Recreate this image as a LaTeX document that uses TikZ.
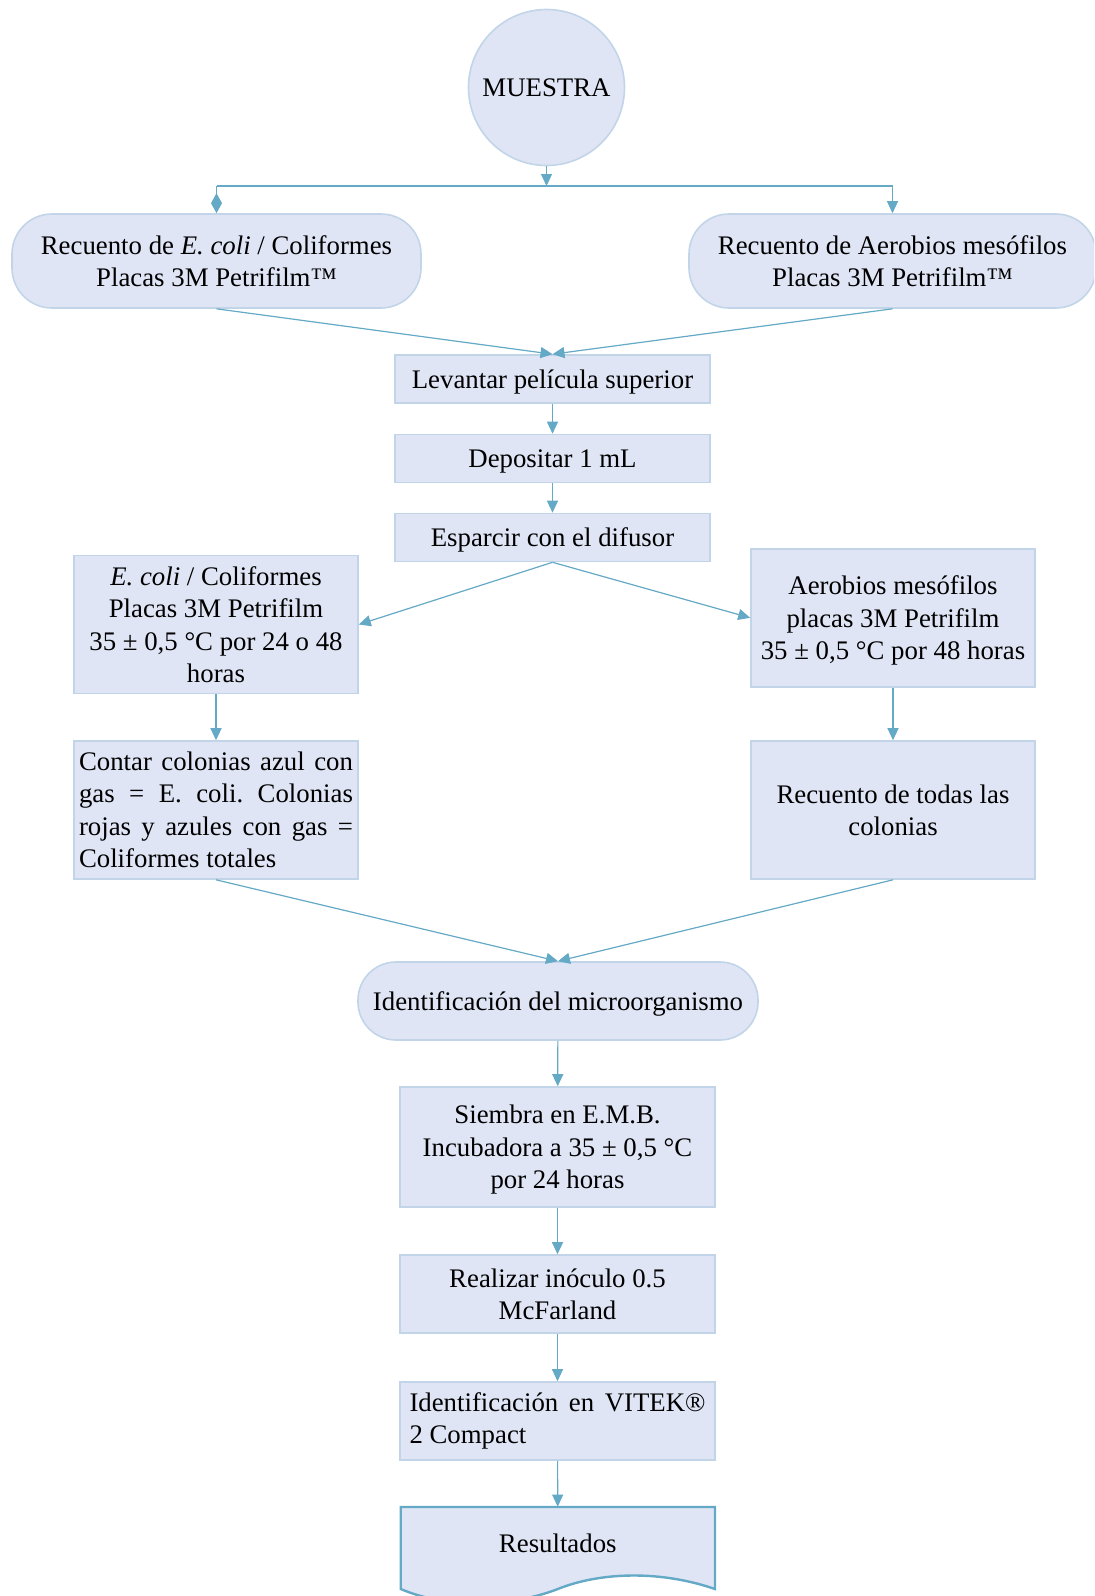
\documentclass[tikz,border=0pt]{standalone}
\usepackage{fontspec}
\setmainfont{Liberation Serif}
\usepackage{tikz}
\usetikzlibrary{arrows.meta,positioning}
\usetikzlibrary{shapes.geometric}

\definecolor{boxfill}{HTML}{DFE5F5}
\definecolor{boxline}{HTML}{C2D5E8}
\definecolor{linkblue}{HTML}{64A9C5}

\begin{document}
\frenchspacing
\begin{tikzpicture}
		[x=1pt,y=-1pt,font=\fontsize{13.4}{16.2}\selectfont,
		cell/.style={shape=rectangle,draw=boxline,fill=boxfill,line width=0.8pt,inner sep=2pt},
		box/.style={cell,align=center,text depth=0pt},
		wide box/.style={box,minimum width=157.5pt},
		side box/.style={box,minimum width=142pt,minimum height=69pt},
		pill/.style={box,rounded corners=20pt},
		link/.style={color=linkblue,line width=0.6pt,-{Triangle[length=6pt,width=5.5pt]}}]
		\useasboundingbox (0,0) rectangle (547,798);
		\clip (0,0) rectangle (547,798);
		
		\node [shape=circle,draw=boxline,fill=boxfill,line width=0.8pt,minimum size=78pt] (muestra) at (273.25,43.75) {MUESTRA};
		
		\node [pill,minimum width=204.5pt,minimum height=47pt] (recEcoli) at (108.25,130.5) {Recuento de \textit{E. coli} / Coliformes\\Placas 3M Petrifilm™};
		\node [pill,minimum width=203.5pt,minimum height=47pt] (recAero) at (446.25,130.5) {Recuento de Aerobios mesófilos\\Placas 3M Petrifilm™};
		
		\node [wide box,minimum height=24pt] (levantar) at (276.25,189.5) {Levantar película superior};
		\node [wide box,minimum height=24pt] (depositar) at (276.25,229.25) {Depositar 1 mL};
		\node [wide box,minimum height=24pt] (esparcir) at (276.25,268.75) {Esparcir con el difusor};
		
		\node [side box] (ecoli) at (108,312.25) {\textit{E. coli} / Coliformes\\Placas 3M Petrifilm\\35 ± 0,5 °C por 24 o 48\\horas};
		\node [side box] (aerobios) at (446.5,308.9) {Aerobios mesófilos\\placas 3M Petrifilm\\35 ± 0,5 °C por 48 horas};
		
		\node [cell,minimum width=142pt,minimum height=69pt,text width=137pt,align=justify] (contar) at (108,405) {Contar colonias azul con\linebreak gas = E. coli. Colonias\linebreak rojas y azules con gas =\linebreak Coliformes totales};
		\node [side box] (todas) at (446.5,405) {Recuento de todas las\\colonias};
		
		\node [pill,rounded corners=19pt,minimum width=200pt,minimum height=39pt] (ident) at (279,500.5) {Identificación del microorganismo};
		
		\node [wide box,minimum height=60pt] (siembra) at (278.75,573.5) {Siembra en E.M.B.\\Incubadora a 35 ± 0,5 °C\\por 24 horas};
		\node [wide box,minimum height=39pt] (realizar) at (278.75,647) {Realizar inóculo 0.5\\McFarland};
		\node [cell,minimum width=157.5pt,minimum height=39pt,text width=148pt,align=justify,inner sep=4.5pt] (vitek) at (278.75,710.5) {Identificación en VITEK®\linebreak 2 Compact};
		
		% hoja de resultados
		\path[draw=linkblue,fill=boxfill,line width=1.2pt]
		(200.35,753.5) -- (357.5,753.5) -- (357.5,794.5)
		.. controls (330,785) and (300,786) .. (278.9,794.5)
		.. controls (257,803) and (225,805) .. (200.35,794.5) -- cycle;
		\node [minimum width=157pt,minimum height=36pt,text depth=0pt] (resultados) at (278.9,771.5) {Resultados};
		
		\coordinate (junc) at (273.25,93);
		\coordinate (jl) at (recEcoli.north |- junc);
		\coordinate (jr) at (recAero.north |- junc);
		
		\draw[color=linkblue,line width=0.6pt] (jl) -- (jr);
		\path[link]
		(muestra) edge (junc)
		(jr) edge (recAero.north)
		(jl) edge [-{Diamond[length=10pt,width=5.5pt]}] (recEcoli.north)
		
		(recEcoli.south) edge (levantar.north)
		(recAero.south) edge (levantar.north)
		(levantar) edge (depositar)
		(depositar) edge (esparcir)
		
		(esparcir.south) edge (ecoli.east)
		(esparcir.south) edge (aerobios.west)
		(ecoli) edge (contar)
		(aerobios) edge (todas)
		
		(contar.south) edge (ident.north)
		(todas.south) edge (ident.north)
		
		(ident) edge (siembra)
		(siembra) edge (realizar)
		(realizar) edge (vitek)
		(vitek) edge (resultados)
		;
		
		\end{tikzpicture}
\end{document}
